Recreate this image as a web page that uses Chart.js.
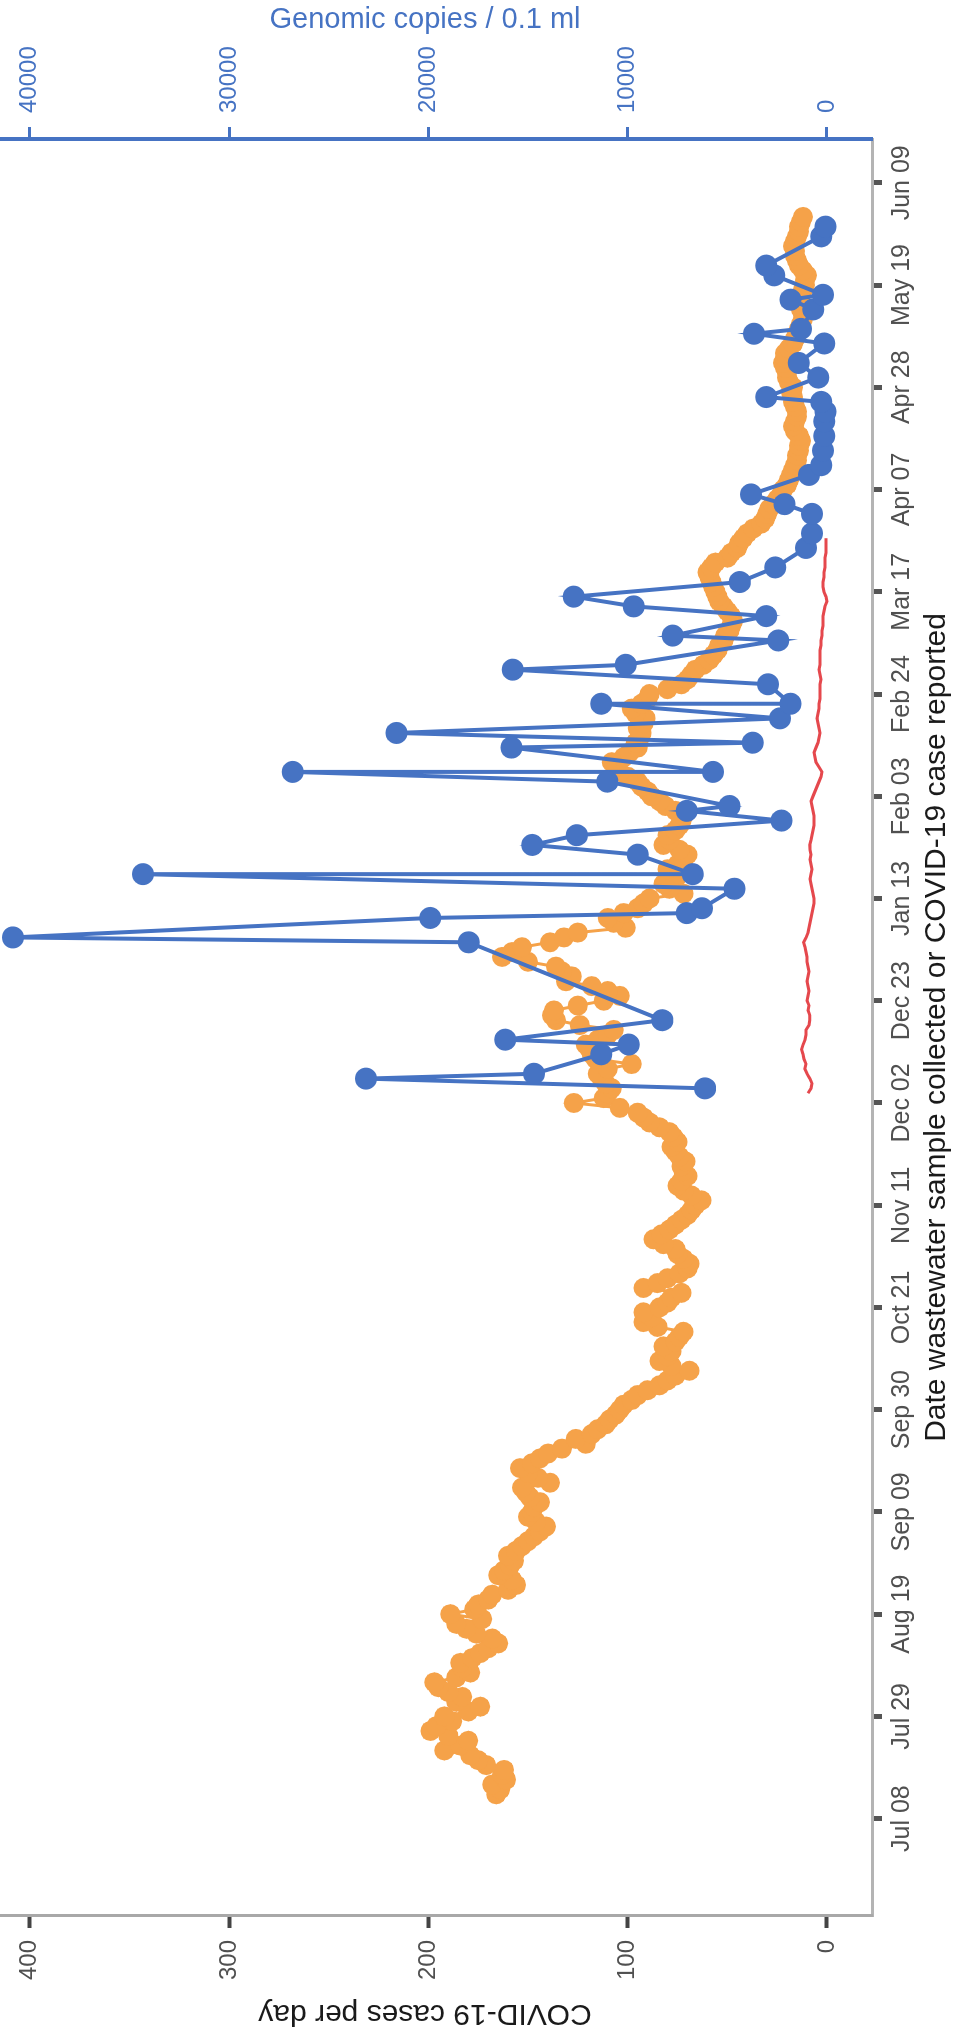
<!DOCTYPE html>
<html>
<head>
<meta charset="utf-8">
<title>Wastewater genomic copies and COVID-19 cases</title>
<script src="https://cdn.jsdelivr.net/npm/chart.js"></script>
<style>
  html, body { margin: 0; padding: 0; background: #fff; }
  body { width: 956px; height: 2035px; overflow: hidden; position: relative; }
  /* the chart is drawn lying down and turned a quarter to the left, like the scanned page */
  #chart {
    position: absolute; left: 0; top: 0;
    width: 2035px; height: 978px;
    transform-origin: 0 0;
    transform: translate(-22px, 2035px) rotate(-90deg);
  }
</style>
</head>
<body>
<canvas id="chart" width="2035" height="978"></canvas>
<script>
// Axis ticks
const dateTicks = ['2020-07-08', '2020-07-29', '2020-08-19', '2020-09-09', '2020-09-30',
  '2020-10-21', '2020-11-11', '2020-12-02', '2020-12-23', '2021-01-13', '2021-02-03',
  '2021-02-24', '2021-03-17', '2021-04-07', '2021-04-28', '2021-05-19', '2021-06-09'];
const caseTicks = [0, 100, 200, 300, 400];
const copyTicks = [0, 10000, 20000, 30000, 40000];

// COVID-19 cases per day, one value per day starting casesStart
const casesStart = '2020-07-13';
const casesPerDay = [
  166, 164, 168, 161, 163, 162, 171, 175, 179, 192,
  184, 180, 190, 199, 196, 188, 192, 180, 174, 186,
  183, 190, 195, 197, 186, 179, 183, 184, 178, 174,
  170, 165, 168, 176, 181, 186, 173, 189, 177, 175,
  170, 168, 160, 156, 158, 165, 162, 159, 157, 160,
  156, 153, 150, 147, 144, 141, 146, 150, 148, 147,
  144, 149, 151, 153, 139, 145, 150, 154, 148, 144,
  140, 133, 121, 126, 118, 115, 111, 109, 106, 104,
  102, 98, 95, 90, 84, 80, 76, 69, 78, 84,
  80, 78, 82, 76, 74, 72, 85, 92, 88, 92,
  84, 80, 78, 73, 92, 85, 80, 74, 70, 69,
  72, 75, 76, 82, 87, 83, 79, 76, 73, 70,
  68, 66, 63, 68, 72, 75, 73, 70, 72, 73,
  71, 74, 76, 78, 75, 77, 79, 84, 89, 92,
  95, 104, 127, 112, 110, 108, 111, 113, 115, 110,
  98, 116, 118, 119, 121, 115, 110, 107, 124, 136,
  138, 137, 125, 112, 104, 110, 118, 131, 128, 133,
  136, 150, 163, 158, 153, 139, 132, 125, 101, 107,
  110, 102, 95, 92, 89, 72, 79, 82, 76, 74,
  80, 75, 72, 70, 74, 82, 79, 80, 76, 74,
  73, 72, 76, 81, 84, 88, 90, 93, 95, 100,
  104, 106, 108, 102, 99, 95, 96, 94, 93, 95,
  92, 91, 96, 98, 93, 90, 89, 80, 73, 70,
  68, 66, 62, 59, 57, 55, 54, 52, 51, 49,
  48, 47, 48, 50, 52, 54, 55, 56, 57, 58,
  59, 60, 58, 56, 50, 48, 45, 44, 42, 40,
  37, 33, 31, 30, 29, 27, 25, 23, 22, 20,
  19, 18, 17, 16, 15, 15, 14, 14, 13, 14,
  16, 17, 16, 15, 15, 16, 17, 17, 18, 17,
  19, 20, 20, 21, 22, 21, 21, 19, 17, 16,
  15, 14, 13, 12, 12, 13, 14, 14, 13, 12,
  11, 11, 10, 12, 14, 15, 16, 16, 17, 16,
  15, 14, 14, 13, 12
];

// Wastewater samples: genomic copies / 0.1 ml
const sampleDates = [
  '2020-12-05', '2020-12-07', '2020-12-08', '2020-12-12', '2020-12-14', '2020-12-15', '2020-12-19',
  '2021-01-04', '2021-01-05', '2021-01-09', '2021-01-10', '2021-01-11', '2021-01-15', '2021-01-18',
  '2021-01-18', '2021-01-22', '2021-01-24', '2021-01-26', '2021-01-29', '2021-01-31',
  '2021-02-01', '2021-02-06', '2021-02-08', '2021-02-08', '2021-02-13', '2021-02-14', '2021-02-16',
  '2021-02-19', '2021-02-22', '2021-02-22', '2021-02-26',
  '2021-03-01', '2021-03-02', '2021-03-07', '2021-03-08', '2021-03-12', '2021-03-14', '2021-03-16',
  '2021-03-19', '2021-03-22', '2021-03-26', '2021-03-29',
  '2021-04-02', '2021-04-04', '2021-04-06', '2021-04-10', '2021-04-12', '2021-04-15', '2021-04-18',
  '2021-04-21', '2021-04-23', '2021-04-25', '2021-04-26', '2021-04-30',
  '2021-05-03', '2021-05-07', '2021-05-09', '2021-05-10', '2021-05-14', '2021-05-16', '2021-05-17',
  '2021-05-21', '2021-05-23', '2021-05-29', '2021-05-31'
];
const genomicCopies = [
  6115, 23130, 14700, 11330, 9950, 16140, 8260,
  17980, 40850, 19910, 7040, 6270, 4645, 34320,
  6730, 9490, 14790, 12550, 2280, 7040,
  4890, 11020, 26810, 5715, 15835, 3725, 21600,
  2360, 11325, 1825, 2955,
  15770, 10100, 2440, 7740, 3050, 9700, 12705,
  4370, 2590, 1055, 750,
  750, 2130, 3815, 905, 290, 200, 135,
  135, 75, 290, 3050, 440,
  1420, 135, 3665, 1300, 690, 1825, 200,
  2650, 3050, 290, 75
];

// Red trace (cases scale), one value per day starting redStart
const redStart = '2020-12-04';
const redValues = [
  9.5, 8, 7.5, 8.6, 10, 11.1, 10.5, 11.5, 12, 12.7,
  12, 11, 10.5, 10.5, 9, 8.6, 8.6, 9.5, 9, 10,
  9.5, 9, 9.5, 10, 9.5, 9, 9.5, 10, 10, 10.5,
  11, 11.7, 10.5, 9.5, 9, 8.5, 8, 7.5, 7, 6.5,
  6.5, 7, 7.5, 8, 8.5, 8, 7.5, 8, 8.5, 8,
  8.5, 8.6, 8, 7.5, 7, 6.5, 6.5, 6.5, 7, 7.5,
  8, 7, 6, 5, 4, 3, 2.5, 4, 5.5, 6,
  6.5, 5.5, 4.5, 4, 3.5, 4, 4.5, 5, 4.5, 4,
  4, 3.5, 3.5, 3.5, 3.5, 3, 3.5, 4, 3.5, 3.5,
  3.5, 3.5, 3, 3, 2.5, 2.5, 2, 2, 2, 1.5,
  1, 0, 0.5, 1.5, 2, 2, 1.5, 1.5, 1, 1,
  1, 0.5, 0.5, 0.5, 0.5
];

// Date helpers: x axis is days since 8 July 2020
const DAY = 86400000;
const MONTHS = ['Jan', 'Feb', 'Mar', 'Apr', 'May', 'Jun', 'Jul', 'Aug', 'Sep', 'Oct', 'Nov', 'Dec'];
const origin = Date.UTC(2020, 6, 8);

function dayOf(iso) {
  const [y, m, d] = iso.split('-').map(Number);
  return Math.round((Date.UTC(y, m - 1, d) - origin) / DAY);
}

function dayLabel(day) {
  const dt = new Date(origin + day * DAY);
  return MONTHS[dt.getUTCMonth()] + ' ' + String(dt.getUTCDate()).padStart(2, '0');
}

const FONT = '"Liberation Sans", Arial, Helvetica, sans-serif';
const BLUE = '#4673c3';
const ORANGE = '#f5a249';
const RED = '#e5484d';

// Build the point lists
const casesStartDay = dayOf(casesStart);
const casePoints = casesPerDay.map((v, i) => ({ x: casesStartDay + i, y: v }));
const samplePoints = sampleDates.map((d, i) => ({ x: dayOf(d), y: genomicCopies[i] }));
const redStartDay = dayOf(redStart);
const redPoints = redValues.map((v, i) => ({ x: redStartDay + i, y: v }));

function fixTicks(values) {
  return function (scale) {
    scale.ticks = values.map(v => ({ value: v }));
  };
}

// fixed axis sizes, and no extra label padding pushed into the plot area
function fitVertical(width) {
  return function (scale) {
    scale.width = width;
    scale.paddingTop = 0;
    scale.paddingBottom = 0;
  };
}

function fitHorizontal(height) {
  return function (scale) {
    scale.height = height;
    scale.paddingLeft = 0;
    scale.paddingRight = 0;
  };
}

const ctx = document.getElementById('chart').getContext('2d');
const chart = new Chart(ctx, {
  type: 'line',
  data: {
    datasets: [
      {
        label: 'Genomic copies / 0.1 ml',
        data: samplePoints,
        yAxisID: 'y2',
        borderColor: BLUE,
        backgroundColor: BLUE,
        borderWidth: 4,
        pointRadius: 11,
        pointBorderWidth: 0,
        pointBackgroundColor: BLUE,
        tension: 0
      },
      {
        label: 'COVID-19 cases per day',
        data: casePoints,
        yAxisID: 'y',
        borderColor: ORANGE,
        backgroundColor: ORANGE,
        borderWidth: 3,
        pointRadius: 10,
        pointBorderWidth: 0,
        pointBackgroundColor: ORANGE,
        tension: 0
      },
      {
        label: 'Reported',
        data: redPoints,
        yAxisID: 'y',
        borderColor: RED,
        borderWidth: 3,
        pointRadius: 0,
        tension: 0
      }
    ]
  },
  options: {
    responsive: false,
    animation: false,
    devicePixelRatio: 1,
    layout: { padding: 0, autoPadding: false },
    plugins: {
      legend: { display: false },
      tooltip: { enabled: false }
    },
    scales: {
      x: {
        type: 'linear',
        position: 'bottom',
        min: dayOf('2020-06-18'),
        max: dayOf('2021-06-18'),
        afterBuildTicks: fixTicks(dateTicks.map(dayOf)),
        afterFit: fitHorizontal(84),
        ticks: {
          autoSkip: false,
          maxRotation: 0,
          minRotation: 0,
          padding: 5,
          color: '#505050',
          font: { family: FONT, size: 25 },
          callback: v => dayLabel(v)
        },
        grid: { drawOnChartArea: false, tickLength: 10, tickWidth: 5, tickColor: '#555' },
        border: { display: true, color: '#b4b4b4', width: 3 },
        title: {
          display: true,
          text: 'Date wastewater sample collected or COVID-19 case reported',
          color: '#1a1a1a',
          font: { family: FONT, size: 30 },
          padding: { top: 0, bottom: 1 }
        }
      },
      y: {
        type: 'linear',
        position: 'left',
        min: -22.6,
        max: 426,
        afterBuildTicks: fixTicks(caseTicks),
        afterFit: fitVertical(119),
        ticks: {
          autoSkip: false,
          padding: 12,
          color: '#505050',
          font: { family: FONT, size: 24 },
          callback: v => String(v)
        },
        grid: { drawOnChartArea: false, tickLength: 12, tickWidth: 4, tickColor: '#444' },
        border: { display: true, color: '#a8a8a8', width: 3 },
        title: {
          display: true,
          text: 'COVID-19 cases per day',
          color: '#1a1a1a',
          font: { family: FONT, size: 30 },
          padding: { top: 4, bottom: 0 }
        }
      },
      y2: {
        type: 'linear',
        position: 'right',
        min: -2260,
        max: 42600,
        afterBuildTicks: fixTicks(copyTicks),
        afterFit: fitVertical(139),
        ticks: {
          autoSkip: false,
          padding: 14,
          color: BLUE,
          font: { family: FONT, size: 24 },
          callback: v => String(v)
        },
        grid: { drawOnChartArea: false, tickLength: 12, tickWidth: 3, tickColor: BLUE },
        border: { display: true, color: BLUE, width: 4 },
        title: {
          display: true,
          text: 'Genomic copies / 0.1 ml',
          color: BLUE,
          font: { family: FONT, size: 29 },
          padding: { top: 3, bottom: 0 }
        }
      }
    }
  }
});
</script>
</body>
</html>
